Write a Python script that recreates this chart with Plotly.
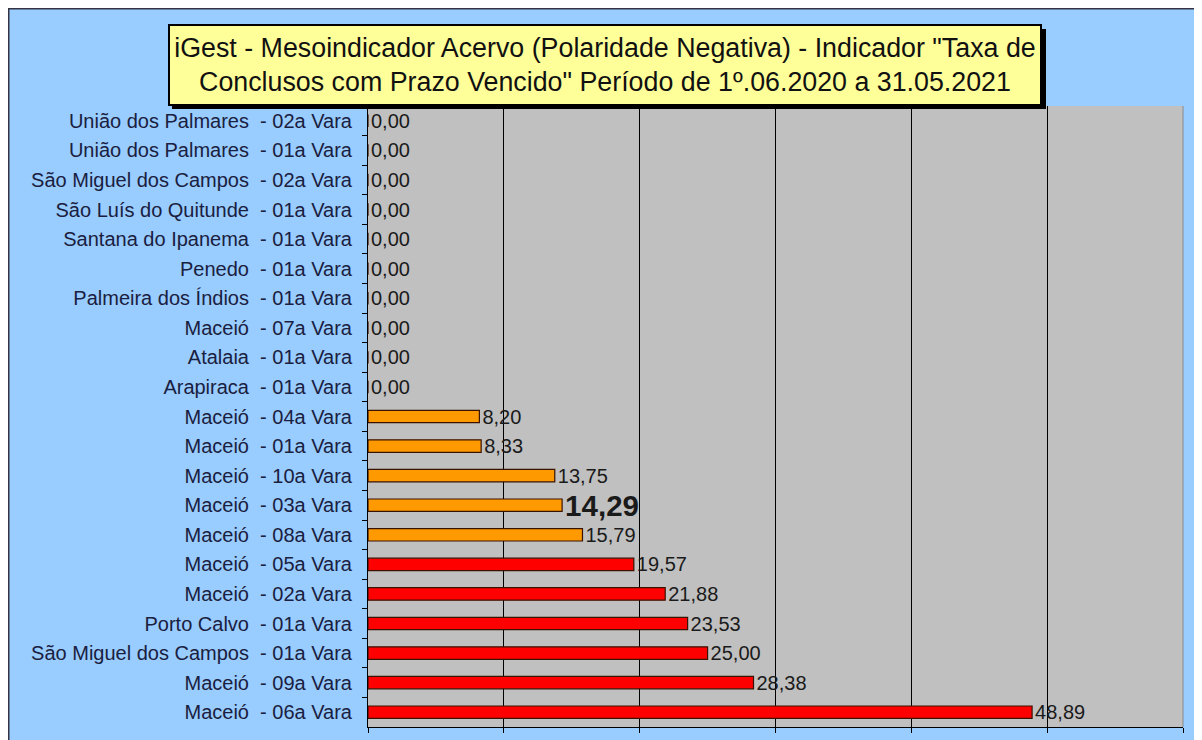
import plotly.graph_objects as go

# ---------------- data ----------------
categories = [
    "União dos Palmares\u00a0 - 02a Vara",
    "União dos Palmares\u00a0 - 01a Vara",
    "São Miguel dos Campos\u00a0 - 02a Vara",
    "São Luís do Quitunde\u00a0 - 01a Vara",
    "Santana do Ipanema\u00a0 - 01a Vara",
    "Penedo\u00a0 - 01a Vara",
    "Palmeira dos Índios\u00a0 - 01a Vara",
    "Maceió\u00a0 - 07a Vara",
    "Atalaia\u00a0 - 01a Vara",
    "Arapiraca\u00a0 - 01a Vara",
    "Maceió\u00a0 - 04a Vara",
    "Maceió\u00a0 - 01a Vara",
    "Maceió\u00a0 - 10a Vara",
    "Maceió\u00a0 - 03a Vara",
    "Maceió\u00a0 - 08a Vara",
    "Maceió\u00a0 - 05a Vara",
    "Maceió\u00a0 - 02a Vara",
    "Porto Calvo\u00a0 - 01a Vara",
    "São Miguel dos Campos\u00a0 - 01a Vara",
    "Maceió\u00a0 - 09a Vara",
    "Maceió\u00a0 - 06a Vara",
]
values = [0, 0, 0, 0, 0, 0, 0, 0, 0, 0,
          8.20, 8.33, 13.75, 14.29, 15.79,
          19.57, 21.88, 23.53, 25.00, 28.38, 48.89]
tiers = ["zero"] * 10 + ["mid"] * 5 + ["high"] * 6
highlight = "Maceió\u00a0 - 03a Vara"

title_text = ('iGest - Mesoindicador Acervo (Polaridade Negativa) - Indicador "Taxa de<br>'
              'Conclusos com Prazo Vencido" Período de 1º.06.2020 a 31.05.2021')

# ---------------- styles ----------------
tier_color = {"zero": "#FF9900", "mid": "#FF9900", "high": "#FF0000"}
# the page body adds an 8px margin, so the figure is 8px smaller than the window
W, H = 1194, 732
ML, MR, MT, MB = 360, 19, 98, 13
PW, PH = W - ML - MR, H - MT - MB
FONT = "Liberation Sans, Arial, sans-serif"


def px(x):
    return (x - ML) / PW


def py(y):
    return (H - MB - y) / PH


labels = []
sizes = []
for c, v in zip(categories, values):
    s = f"{v:.2f}".replace(".", ",")
    if c == highlight:
        labels.append(f"<b>{s}</b>")
        sizes.append(29.5)
    else:
        labels.append(s)
        sizes.append(20)

fig = go.Figure(go.Bar(
    y=categories,
    x=values,
    orientation="h",
    width=0.42,
    marker=dict(color=[tier_color[t] for t in tiers],
                line=dict(color="#3a1200", width=1.2)),
    text=labels,
    textposition="outside",
    constraintext="none",
    textfont=dict(family=FONT, size=sizes, color="#1a1a1a"),
    cliponaxis=False,
    hoverinfo="x+y",
))

fig.update_layout(
    width=W, height=H,
    margin=dict(l=ML, r=MR, t=MT, b=MB, pad=0, autoexpand=False),
    paper_bgcolor="#99CCFF",
    plot_bgcolor="#C0C0C0",
    showlegend=False,
    font=dict(family=FONT, color="#1a2040"),
    xaxis=dict(range=[0, 60], dtick=10, tick0=0, showgrid=True, gridcolor="#000000",
               gridwidth=1, showticklabels=False, ticks="outside", ticklen=5,
               tickcolor="#000000", showline=True, linecolor="#000000", linewidth=1,
               zeroline=False, fixedrange=True, automargin=False),
    yaxis=dict(autorange="reversed", type="category", ticks="outside", tickson="boundaries",
               ticklen=5, tickcolor="#000000", showline=True, linecolor="#000000",
               linewidth=1, showgrid=False, tickfont=dict(family=FONT, size=20, color="#1a2040"),
               ticklabelstandoff=11, fixedrange=True, automargin=False),
    bargap=0.58,
)

shapes = [
    # dark outer frame lines (top and left)
    dict(type="line", xref="paper", yref="paper", x0=px(0), x1=px(W), y0=py(0.75), y1=py(0.75),
         line=dict(color="#333344", width=1.5), layer="above"),
    dict(type="line", xref="paper", yref="paper", x0=px(0.75), x1=px(0.75), y0=py(0), y1=py(H),
         line=dict(color="#333344", width=1.5), layer="above"),
    # right edge of plot area
    dict(type="line", xref="paper", yref="paper", x0=1, x1=1, y0=0, y1=1,
         line=dict(color="#8a8a8a", width=1), layer="above"),
    # title box shadow
    dict(type="rect", xref="paper", yref="paper", x0=px(164), x1=px(1038), y0=py(101), y1=py(21),
         fillcolor="#000000", line=dict(width=0), layer="above"),
]
fig.update_layout(shapes=shapes)

fig.add_annotation(
    xref="paper", yref="paper",
    x=px(597), y=py(57), xanchor="center", yanchor="middle",
    text=title_text, showarrow=False, align="center",
    font=dict(family=FONT, size=26.8, color="#111111"),
    bgcolor="#FFFF99", bordercolor="#000000", borderwidth=2, borderpad=2,
    width=866, height=74,
)

fig.write_html("out.html")
